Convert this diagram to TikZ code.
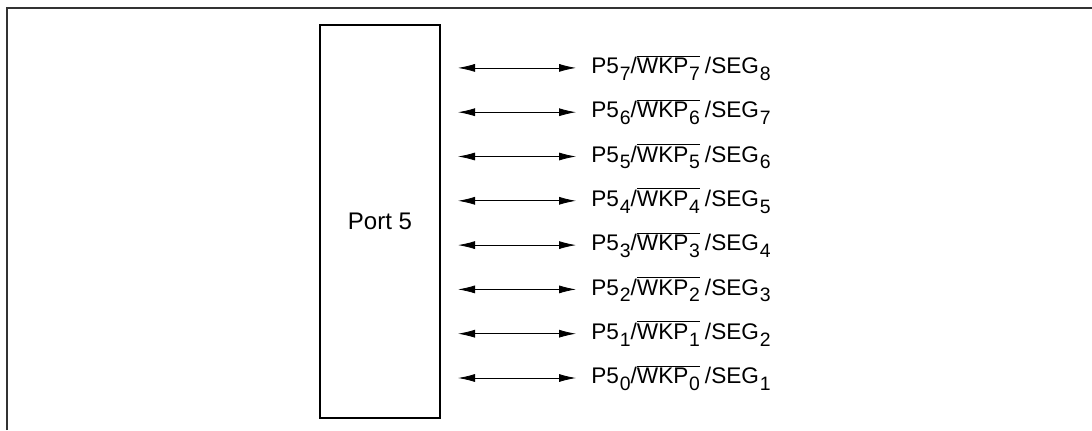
\documentclass[tikz,border=0pt]{standalone}
\usepackage{fontspec}
\setmainfont{Liberation Sans}
\usetikzlibrary{arrows.meta, positioning}
\tikzset{
	blk/.style  ={rectangle, draw=black, thick, minimum width=60pt, minimum height=196.5pt, align=center, font=\fontsize{12}{14}\selectfont},
	sig/.style  ={{Latex[length=8.5pt,width=4pt]}-{Latex[length=8.5pt,width=4pt]}, thin},
	lbl/.style  ={anchor=west, inner sep=0pt, font=\fontsize{11.3}{13}\selectfont},
	frame/.style={line width=0.8pt, black!80},
}
\newsavebox{\ovlbox}
\newcommand{\lowsub}[1]{\kern0.4pt\raisebox{-3.3pt}{\fontsize{9.7}{10}\selectfont #1}}
\newcommand{\ovl}[1]{\sbox{\ovlbox}{#1}\rlap{\raisebox{8.5pt}{\rule{\wd\ovlbox}{0.5pt}}}\usebox{\ovlbox}}
\newcommand{\wkpline}[1]{P5\lowsub{#1}/\ovl{WKP\lowsub{#1}}\kern2.5pt/SEG\lowsub{\the\numexpr#1+1\relax}}
\begin{document}
\begin{tikzpicture}[x=0.5pt, y=-0.5pt]
	\useasboundingbox (0,0) rectangle (1092,430);
	\draw[frame] (7,430) -- (7,8) -- (1092,8);
	\node[blk] (port) at (380,221.5) {Port 5};
	% one line per pin, P5_0 at the bottom
	\foreach \i in {0,...,7} {
		\coordinate (l\i) at (458,{378-44.3*\i});
		\coordinate (r\i) at (576,{378-44.3*\i});
		\draw[sig] (l\i) -- (r\i);
		\node[lbl, right=7.5pt of r\i] (p\i) {\wkpline{\i}};
	}
\end{tikzpicture}
\end{document}
